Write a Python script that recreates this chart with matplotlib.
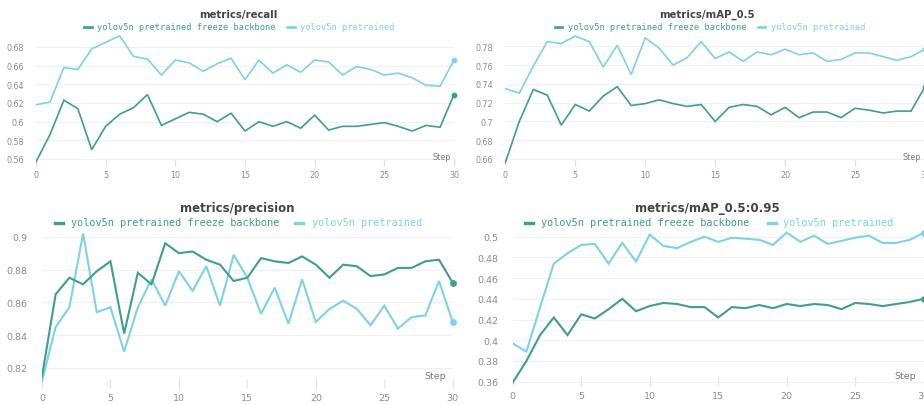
import matplotlib
matplotlib.use("Agg")
import matplotlib.pyplot as plt
from matplotlib.lines import Line2D

# ---- data -------------------------------------------------------------
steps = list(range(31))
series_names = ["yolov5n pretrained freeze backbone", "yolov5n pretrained"]

recall_freeze = [0.557, 0.586, 0.623, 0.614, 0.570, 0.595, 0.608, 0.615, 0.629, 0.596,
                 0.603, 0.610, 0.608, 0.600, 0.609, 0.590, 0.600, 0.595, 0.600, 0.593,
                 0.607, 0.591, 0.595, 0.595, 0.597, 0.599, 0.595, 0.590, 0.596, 0.594, 0.629]
recall_pre = [0.618, 0.621, 0.658, 0.656, 0.678, 0.685, 0.692, 0.670, 0.667, 0.650,
              0.666, 0.663, 0.654, 0.662, 0.668, 0.645, 0.666, 0.652, 0.661, 0.653,
              0.666, 0.664, 0.650, 0.659, 0.656, 0.650, 0.652, 0.647, 0.639, 0.638, 0.666]

map50_freeze = [0.656, 0.700, 0.734, 0.728, 0.696, 0.718, 0.711, 0.727, 0.737, 0.717,
                0.719, 0.723, 0.719, 0.716, 0.718, 0.700, 0.715, 0.718, 0.716, 0.707,
                0.715, 0.704, 0.710, 0.710, 0.704, 0.714, 0.712, 0.709, 0.711, 0.711, 0.737]
map50_pre = [0.735, 0.730, 0.759, 0.785, 0.783, 0.791, 0.785, 0.758, 0.781, 0.750,
             0.789, 0.778, 0.760, 0.768, 0.785, 0.767, 0.774, 0.764, 0.774, 0.771,
             0.777, 0.771, 0.773, 0.764, 0.766, 0.773, 0.773, 0.769, 0.765, 0.769, 0.777]

prec_freeze = [0.815, 0.865, 0.875, 0.871, 0.879, 0.885, 0.841, 0.878, 0.871, 0.896,
               0.890, 0.891, 0.886, 0.883, 0.873, 0.875, 0.887, 0.885, 0.884, 0.888,
               0.883, 0.875, 0.883, 0.882, 0.876, 0.877, 0.881, 0.881, 0.885, 0.886, 0.872]
prec_pre = [0.812, 0.845, 0.857, 0.902, 0.854, 0.857, 0.830, 0.857, 0.874, 0.858,
            0.879, 0.867, 0.882, 0.858, 0.889, 0.875, 0.853, 0.869, 0.847, 0.874,
            0.848, 0.856, 0.861, 0.856, 0.846, 0.858, 0.844, 0.851, 0.852, 0.873, 0.848]

map5095_freeze = [0.359, 0.380, 0.405, 0.422, 0.405, 0.425, 0.421, 0.430, 0.440, 0.428,
                  0.433, 0.436, 0.435, 0.432, 0.432, 0.422, 0.432, 0.431, 0.434, 0.431,
                  0.435, 0.433, 0.435, 0.434, 0.430, 0.436, 0.435, 0.433, 0.435, 0.437, 0.440]
map5095_pre = [0.397, 0.389, 0.432, 0.474, 0.484, 0.492, 0.493, 0.474, 0.494, 0.476,
               0.502, 0.491, 0.489, 0.495, 0.500, 0.495, 0.499, 0.498, 0.497, 0.492,
               0.504, 0.495, 0.501, 0.493, 0.496, 0.499, 0.501, 0.494, 0.494, 0.497, 0.504]

x_ticks = [0, 5, 10, 15, 20, 25, 30]

# ---- styling ----------------------------------------------------------
W, H = 924, 406
DPI = 100
DARK = "#3f9f8c"
LIGHT = "#7dd2e6"
TICK_GRAY = "#8c8c8c"
GRID = "#f1f1f1"
TICKMARK = "#e2e2e2"

fig = plt.figure(figsize=(W / DPI, H / DPI), dpi=DPI)
fig.patch.set_facecolor("white")


def fx(px):
    return px / W


def fy(py):
    return 1 - py / H


def panel(title, freeze, pre, yticks, ylabels, box, ylim, fs, title_xy, legend_y,
          legend_x, step_xy, lw, end_dots=True):
    left, top, right, bottom = box
    ax = fig.add_axes([fx(left), fy(bottom), fx(right - left), (bottom - top) / H])
    ax.set_facecolor("none")
    ax.plot(steps, pre, color=LIGHT, lw=lw, solid_joinstyle="miter", zorder=3)
    ax.plot(steps, freeze, color=DARK, lw=lw, solid_joinstyle="miter", zorder=4)
    if end_dots:
        ax.plot([steps[-1]], [pre[-1]], "o", color=LIGHT, ms=lw * 2.6, clip_on=False, zorder=5)
        ax.plot([steps[-1]], [freeze[-1]], "o", color=DARK, ms=lw * 2.6, clip_on=False, zorder=5)
    ax.set_xlim(0, 30)
    ax.set_ylim(*ylim)
    ax.set_yticks(yticks)
    ax.set_yticklabels(ylabels)
    ax.set_xticks(x_ticks)
    ax.grid(axis="y", color=GRID, lw=0.9)
    ax.set_axisbelow(True)
    for s in ax.spines.values():
        s.set_visible(False)
    ax.tick_params(axis="y", length=0, pad=fs * 1.5, labelsize=fs, labelcolor=TICK_GRAY)
    ax.tick_params(axis="x", direction="in", length=fs * 1.0, width=0.9, color=TICKMARK,
                   pad=fs * 0.55, labelsize=fs, labelcolor=TICK_GRAY)
    # title and legend
    fig.text(fx(title_xy[0]), fy(title_xy[1]), title, ha="center", va="center",
             fontsize=fs * 1.25, fontweight="bold", color="#444444")
    for (dash_x0, dash_x1, text_x), name, col in zip(legend_x, series_names, [DARK, LIGHT]):
        fig.add_artist(Line2D([fx(dash_x0), fx(dash_x1)], [fy(legend_y), fy(legend_y)],
                              color=col, lw=lw * 1.6, transform=fig.transFigure))
        fig.text(fx(text_x), fy(legend_y), name, ha="left", va="center",
                 fontsize=fs * 1.08, family="DejaVu Sans Mono", color=col)
    fig.text(fx(step_xy[0]), fy(step_xy[1]), "Step", ha="right", va="center",
             fontsize=fs, color="#7a7a7a")
    return ax


# recall (top left)
panel("metrics/recall", recall_freeze, recall_pre,
      [0.56, 0.58, 0.60, 0.62, 0.64, 0.66, 0.68],
      ["0.56", "0.58", "0.6", "0.62", "0.64", "0.66", "0.68"],
      box=(36, 34, 454, 167), ylim=(0.5525, 0.695), fs=5.8,
      title_xy=(238, 15), legend_y=28,
      legend_x=[(84, 92, 97), (287, 295, 300.5)],
      step_xy=(451, 157), lw=1.2)

# mAP_0.5 (top right)
panel("metrics/mAP_0.5", map50_freeze, map50_pre,
      [0.66, 0.68, 0.70, 0.72, 0.74, 0.76, 0.78],
      ["0.66", "0.68", "0.7", "0.72", "0.74", "0.76", "0.78"],
      box=(505.3, 34, 925, 167), ylim=(0.6525, 0.7942), fs=5.8,
      title_xy=(707, 15), legend_y=28,
      legend_x=[(555, 562, 568), (758, 765, 771)],
      step_xy=(921, 157), lw=1.2)

# precision (bottom left)
panel("metrics/precision", prec_freeze, prec_pre,
      [0.82, 0.84, 0.86, 0.88, 0.90],
      ["0.82", "0.84", "0.86", "0.88", "0.9"],
      box=(42, 232, 452.7, 389), ylim=(0.8078, 0.9035), fs=6.8,
      title_xy=(237, 208.5), legend_y=223.5,
      legend_x=[(55, 63, 71), (295, 303, 312.5)],
      step_xy=(446, 376.5), lw=1.5)

# mAP_0.5:0.95 (bottom right)
panel("metrics/mAP_0.5:0.95", map5095_freeze, map5095_pre,
      [0.36, 0.38, 0.40, 0.42, 0.44, 0.46, 0.48, 0.50],
      ["0.36", "0.38", "0.4", "0.42", "0.44", "0.46", "0.48", "0.5"],
      box=(512.7, 232, 923.7, 387), ylim=(0.3558, 0.5055), fs=6.8,
      title_xy=(707.7, 208.5), legend_y=223.5,
      legend_x=[(525, 533, 541), (768, 776, 782.7)],
      step_xy=(916, 376.5), lw=1.5)

fig.savefig("out.png", dpi=DPI, facecolor="white")
